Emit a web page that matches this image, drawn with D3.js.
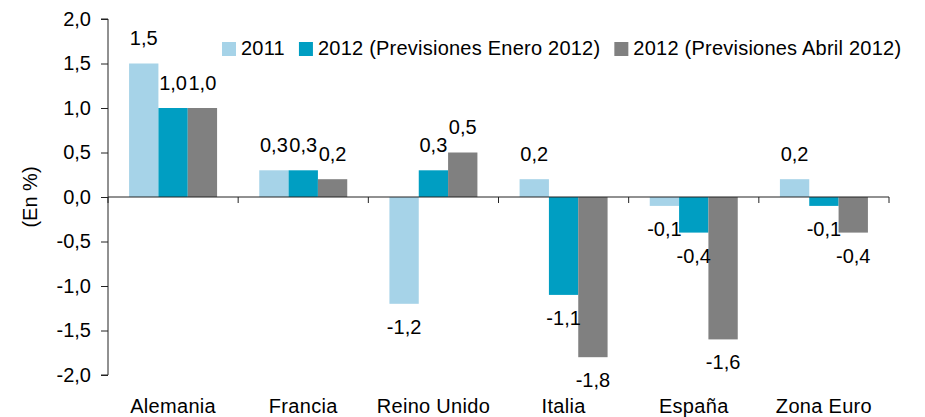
<!DOCTYPE html>
<html>
<head>
<meta charset="utf-8">
<script src="https://cdn.jsdelivr.net/npm/d3@7"></script>
<style>
  html, body { margin: 0; padding: 0; background: #fff; }
  text { font-family: "Liberation Sans", Arial, sans-serif; fill: #000; }
</style>
</head>
<body>
<svg id="chart" width="925" height="417"></svg>
<script>
const categories = ["Alemania", "Francia", "Reino Unido", "Italia", "España", "Zona Euro"];
const seriesNames = ["2011", "2012 (Previsiones Enero 2012)", "2012 (Previsiones Abril 2012)"];
const values2011 = [1.5, 0.3, -1.2, 0.2, -0.1, 0.2];
const valuesEnero = [1.0, 0.3, 0.3, -1.1, -0.4, -0.1];
const valuesAbril = [1.0, 0.2, 0.5, -1.8, -1.6, -0.4];
const yTicks = [2.0, 1.5, 1.0, 0.5, 0.0, -0.5, -1.0, -1.5, -2.0];
const colors = ["#a6d3e8", "#009ec2", "#808080"];

(function () {
const seriesValues = [values2011, valuesEnero, valuesAbril];
const fmt = v => d3.format(".1f")(v).replace(".", ",").replace("−", "-");

const svg = d3.select("#chart");
const pLeft = 108, pRight = 889, pTop = 19, pBottom = 375;

const y = d3.scaleLinear().domain([-2, 2]).range([pBottom, pTop]);
const x0 = d3.scaleBand().domain(categories).range([pLeft, pRight])
  .paddingInner(0.324).paddingOuter(0.162);
const x1 = d3.scaleBand().domain(seriesNames).range([0, x0.bandwidth()]).padding(0);

// Bars
categories.forEach((c, i) => {
  seriesNames.forEach((s, j) => {
    const v = seriesValues[j][i];
    svg.append("rect")
      .attr("x", x0(c) + x1(s))
      .attr("y", Math.min(y(v), y(0)))
      .attr("width", x1.bandwidth())
      .attr("height", Math.abs(y(v) - y(0)))
      .attr("fill", colors[j]);
  });
});

// Y axis
const yAxis = d3.axisLeft(y).tickValues(yTicks).tickSize(7).tickPadding(10)
  .tickFormat(fmt);
const gy = svg.append("g").attr("transform", `translate(${pLeft},0)`).call(yAxis);
gy.select(".domain").attr("stroke", "#222").attr("d", `M-7,${y(2)}H0V${y(-2)}H-7`);
gy.selectAll(".tick line").attr("stroke", "#222");
gy.selectAll(".tick text").attr("font-size", 20).attr("font-family", "Liberation Sans, Arial, sans-serif").attr("fill", "#000");

// Zero line and category ticks
svg.append("line").attr("x1", pLeft).attr("x2", pRight).attr("y1", y(0)).attr("y2", y(0))
  .attr("stroke", "#222");
d3.range(categories.length + 1).forEach(k => {
  const xx = pLeft + k * x0.step();
  svg.append("line").attr("x1", xx).attr("x2", xx).attr("y1", y(0)).attr("y2", y(0) + 6)
    .attr("stroke", "#222");
});

// Category labels
categories.forEach(c => {
  svg.append("text").attr("x", x0(c) + x0.bandwidth() / 2).attr("y", 413)
    .attr("text-anchor", "middle").attr("font-size", 20)
    .attr("letter-spacing", 0.3).text(c);
});

// Value labels
categories.forEach((c, i) => {
  seriesNames.forEach((s, j) => {
    const v = seriesValues[j][i];
    const cx = x0(c) + x1(s) + x1.bandwidth() / 2;
    const ty = v >= 0 ? y(v) - 18.5 : y(v) + 30;
    svg.append("text").attr("x", cx).attr("y", ty).attr("text-anchor", "middle")
      .attr("font-size", 20).text(fmt(v));
  });
});

// Axis title
svg.append("text").attr("transform", `translate(37,${y(0)}) rotate(-90)`)
  .attr("text-anchor", "middle").attr("font-size", 20).text("(En %)");

// Legend
let lx = 222;
seriesNames.forEach((s, j) => {
  svg.append("rect").attr("x", lx).attr("y", 42).attr("width", 14).attr("height", 14)
    .attr("fill", colors[j]);
  const t = svg.append("text").attr("x", lx + 19).attr("y", 55).attr("font-size", 20)
    .attr("letter-spacing", 0.23).text(s);
  lx += 19 + t.node().getComputedTextLength() + 14;
});
})();
</script>
</body>
</html>
